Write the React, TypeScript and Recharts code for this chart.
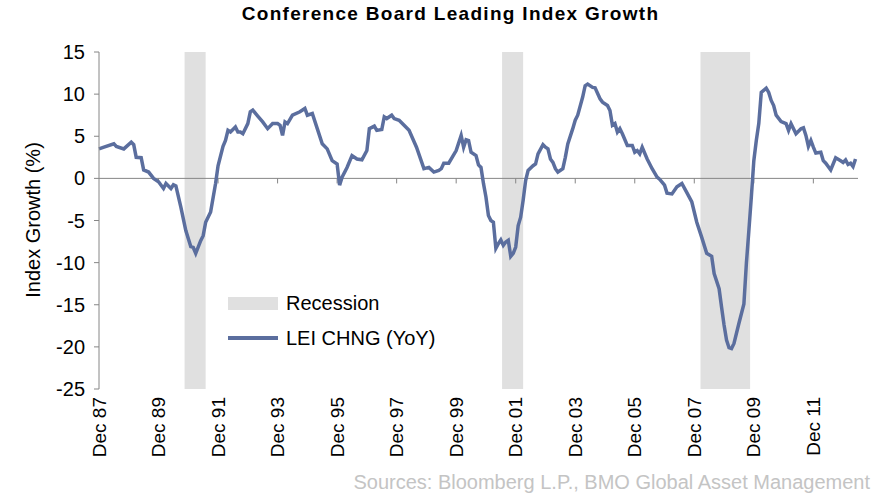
import React from 'react';
import { LineChart, Line, XAxis, YAxis, ReferenceArea, ReferenceLine } from 'recharts';

// month index counted from Dec 1987
const months = [
  0, 2, 6, 7, 10, 13, 14, 15, 17, 18, 20, 22, 24, 26, 27, 29, 30, 31, 33, 35, 37, 38, 39, 41, 42, 43, 45, 47, 48,
  50, 51, 52, 53, 55, 56, 57, 58, 60, 61, 62, 64, 66, 68, 70, 72, 73, 74, 75, 76, 78, 81, 83, 84, 86, 88, 90, 92,
  94, 96, 97, 98, 100, 102, 104, 106, 108, 109, 111, 112, 114, 115, 116, 118, 119, 121, 123, 125, 128, 131, 133,
  135, 137, 138, 139, 141, 144, 146, 147, 148, 149, 150, 152, 153, 154, 155, 156, 157, 158, 159, 160, 161, 162,
  163, 164, 165, 166, 167, 168, 169, 170, 171, 172, 173, 175, 176, 177, 179, 180, 181, 182, 183, 184, 185, 187,
  188, 189, 191, 192, 193, 195, 196, 197, 199, 200, 202, 203, 205, 206, 207, 208, 209, 210, 211, 213, 215, 216,
  217, 218, 219, 221, 223, 225, 226, 228, 229, 231, 233, 235, 237, 239, 241, 243, 245, 247, 248, 250, 251, 252,
  253, 254, 255, 256, 258, 260, 261, 262, 263, 264, 265, 266, 267, 269, 270, 271, 272, 273, 275, 277, 278, 279,
  281, 283, 284, 285, 286, 287, 288, 289, 291, 292, 293, 295, 297, 299, 300, 301, 302, 303, 304, 305,
];

const leiChng = [
  3.5, 3.7, 4.1, 3.8, 3.5, 4.3, 4.0, 2.5, 2.45, 1.0, 0.75, 0, -0.4, -1.2, -0.6, -1.2, -0.75, -0.9, -3.4, -6.2, -8.1,
  -8.2, -8.9, -7.4, -6.8, -5.2, -4.0, -0.6, 1.5,
  3.8, 4.5, 5.7, 5.5, 6.1, 5.5, 5.5, 5.3, 6.5, 7.9, 8.1, 7.4, 6.7, 5.9, 6.5, 6.5, 6.3, 5.1, 6.7, 6.5, 7.5, 7.9, 8.3,
  7.5, 7.7, 5.9, 4.1, 3.5,
  2.1, 1.7, -0.8, 0.15, 1.3, 2.7, 2.3, 2.2, 3.3, 5.9, 6.2, 5.7, 5.8, 7.3, 7.1, 7.5, 7.1, 6.9, 6.3, 5.7, 3.7, 1.15,
  1.3,
  0.75, 0.95, 1.15, 1.8, 1.8, 3.3, 5.1, 3.7, 4.6, 4.5, 3.1, 2.7, 1.6, 1.3, -0.6, -2.2, -4.4, -5.0, -5.2, -8.3,
  -7.75, -7.3,
  -7.95, -7.55, -7.35, -9.25, -8.9, -8.15, -5.6, -4.6, -2.6, -0.25, 0.95, 1.5, 1.7, 2.9, 4.0, 3.7, 3.5, 2.3, 1.9,
  1.15, 0.75, 1.15,
  2.5, 4.1, 5.9, 6.9, 7.5, 9.65, 11.0, 11.2, 10.8, 10.75, 9.45, 9.05, 8.65, 8.05, 6.3, 6.5, 5.5, 5.9, 5.3, 3.9,
  3.9, 3.1,
  3.3, 2.9, 3.7, 2.3, 1.15, 0.15, -0.1, -0.8, -1.75, -1.85, -1.0, -0.6, -1.7, -2.8, -5.2, -7.0, -8.9, -9.25, -11.3,
  -13.1, -15.3, -17.4,
  -19.2, -20.1, -20.2, -19.6, -17.2, -14.9, -10.1, -6.2, -2.2, 2.1, 4.5, 6.5, 10.2, 10.7, 10.2, 9.25, 8.65, 7.5,
  6.75, 6.5, 5.7, 6.5,
  5.3, 5.9, 6.0, 5.1, 3.8, 4.5, 3.7, 3.0, 3.1, 2.1, 1.8, 1.0, 2.45, 2.1, 1.9, 2.2, 1.65, 1.8, 1.4, 2.3,
];

const tickMonths = [0, 24, 48, 72, 96, 120, 144, 168, 192, 216, 240, 264, 288];
const tickLabels = [
  'Dec 87', 'Dec 89', 'Dec 91', 'Dec 93', 'Dec 95', 'Dec 97', 'Dec 99',
  'Dec 01', 'Dec 03', 'Dec 05', 'Dec 07', 'Dec 09', 'Dec 11',
];
const yTicks = [-25, -20, -15, -10, -5, 0, 5, 10, 15];

const recessionStart = [34.5, 162.5, 242.5];
const recessionEnd = [43, 171, 262.5];

const data = months.map((m, i) => ({ m, v: leiChng[i] }));

const FONT = '"Liberation Sans", Arial, sans-serif';
const LINE_COLOR = '#5b6e9e';
const AXIS_COLOR = '#868686';

const DateTick = ({ x, y, payload }: any) => {
  const label = tickLabels[tickMonths.indexOf(payload.value)];
  return (
    <text
      x={x}
      y={y}
      transform={`rotate(-90 ${x} ${y})`}
      textAnchor="end"
      dominantBaseline="central"
      fontSize={19}
      fill="#000"
      fontFamily={FONT}
    >
      {label}
    </text>
  );
};

export default function App() {
  return (
    <div
      style={{
        position: 'absolute',
        left: 0,
        top: 0,
        width: 893,
        height: 496,
        background: '#fff',
        fontFamily: FONT,
      }}
    >
      <div
        style={{
          position: 'absolute',
          left: 4,
          top: 3,
          width: 893,
          textAlign: 'center',
          fontWeight: 'bold',
          fontSize: 19,
          letterSpacing: 1.3,
        }}
      >
        Conference Board Leading Index Growth
      </div>

      <LineChart width={893} height={496} data={data} margin={{ top: 52, right: 35, bottom: 47, left: 0 }}>
        {recessionStart.map((s, i) => (
          <ReferenceArea key={i} x1={s} x2={recessionEnd[i]} y1={-25} y2={15} fill="#e0e0e0" fillOpacity={1} stroke="none" />
        ))}
        <XAxis
          dataKey="m"
          type="number"
          domain={[0, 306]}
          ticks={tickMonths}
          tick={<DateTick />}
          axisLine={false}
          tickLine={false}
          height={60}
          interval={0}
        />
        <YAxis
          type="number"
          domain={[-25, 15]}
          ticks={yTicks}
          width={99}
          interval={0}
          stroke={AXIS_COLOR}
          tickSize={5}
          tickMargin={9}
          tick={{ fontSize: 20, fill: '#000', fontFamily: FONT }}
          label={() => (
            <text
              x={33}
              y={220}
              transform="rotate(-90 33 220)"
              textAnchor="middle"
              dominantBaseline="central"
              fontSize={20}
              fontFamily={FONT}
              fill="#000"
            >
              Index Growth (%)
            </text>
          )}
        />
        <ReferenceLine y={0} stroke={AXIS_COLOR} strokeWidth={1} />
        {tickMonths.slice(1).map((t) => (
          <ReferenceLine
            key={t}
            segment={[{ x: t, y: 0 }, { x: t, y: -0.6 }]}
            stroke={AXIS_COLOR}
            strokeWidth={1}
          />
        ))}
        <Line
          type="linear"
          dataKey="v"
          stroke={LINE_COLOR}
          strokeWidth={3.5}
          dot={false}
          isAnimationActive={false}
        />
      </LineChart>

      <div style={{ position: 'absolute', left: 228, top: 290, fontSize: 20, color: '#000' }}>
        <div style={{ display: 'flex', alignItems: 'center', height: 26 }}>
          <span style={{ display: 'inline-block', width: 50, height: 13, background: '#e0e0e0', marginRight: 8 }} />
          Recession
        </div>
        <div style={{ display: 'flex', alignItems: 'center', height: 26, marginTop: 9 }}>
          <span style={{ display: 'inline-block', width: 50, height: 3.5, background: LINE_COLOR, marginRight: 8 }} />
          LEI CHNG (YoY)
        </div>
      </div>

      <div
        style={{
          position: 'absolute',
          right: 23,
          top: 471,
          fontSize: 20,
          color: '#c4c4c4',
          whiteSpace: 'nowrap',
        }}
      >
        Sources: Bloomberg L.P., BMO Global Asset Management
      </div>
    </div>
  );
}
